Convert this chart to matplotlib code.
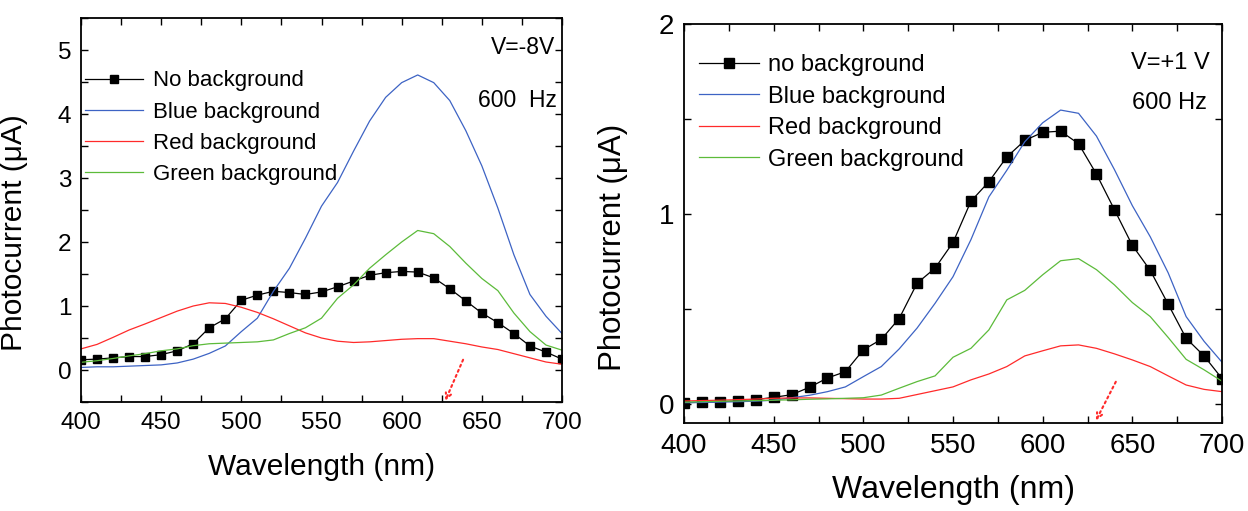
import matplotlib
matplotlib.use('Agg')
import matplotlib.pyplot as plt
from matplotlib.ticker import MultipleLocator

plt.rcParams['font.family'] = ['Liberation Sans', 'DejaVu Sans']

wl = list(range(400, 701, 10))

# left panel, V=-8V
left_none = [0.16, 0.17, 0.19, 0.21, 0.21, 0.24, 0.30, 0.41, 0.66, 0.80, 1.09, 1.17, 1.23, 1.21, 1.18, 1.22,
             1.30, 1.39, 1.48, 1.52, 1.54, 1.53, 1.44, 1.27, 1.08, 0.89, 0.74, 0.57, 0.375, 0.28, 0.17]
left_blue = [0.04, 0.05, 0.05, 0.06, 0.07, 0.08, 0.11, 0.17, 0.26, 0.375, 0.60, 0.81, 1.23, 1.59, 2.06, 2.56,
             2.93, 3.42, 3.89, 4.26, 4.49, 4.61, 4.49, 4.21, 3.74, 3.19, 2.53, 1.80, 1.18, 0.84, 0.57]
left_red = [0.33, 0.40, 0.51, 0.625, 0.72, 0.82, 0.92, 1.00, 1.05, 1.04, 0.98, 0.90, 0.80, 0.69, 0.58, 0.50,
            0.45, 0.43, 0.44, 0.46, 0.48, 0.49, 0.49, 0.45, 0.41, 0.36, 0.32, 0.255, 0.19, 0.125, 0.09]
left_green = [0.12, 0.145, 0.18, 0.22, 0.255, 0.30, 0.33, 0.38, 0.41, 0.42, 0.43, 0.44, 0.47, 0.57, 0.66, 0.81,
              1.12, 1.33, 1.59, 1.80, 2.00, 2.18, 2.13, 1.93, 1.67, 1.43, 1.24, 0.89, 0.60, 0.39, 0.31]

# right panel, V=+1 V
right_none = [0.007, 0.009, 0.012, 0.016, 0.023, 0.035, 0.049, 0.088, 0.137, 0.17, 0.285, 0.34, 0.45, 0.636,
              0.715, 0.85, 1.067, 1.17, 1.30, 1.387, 1.43, 1.436, 1.37, 1.21, 1.023, 0.835, 0.703, 0.525,
              0.346, 0.253, 0.134]
right_blue = [0.007, 0.008, 0.01, 0.012, 0.015, 0.02, 0.033, 0.046, 0.065, 0.09, 0.144, 0.197, 0.29, 0.40,
              0.53, 0.67, 0.865, 1.09, 1.23, 1.38, 1.48, 1.547, 1.53, 1.41, 1.234, 1.044, 0.88, 0.69, 0.46,
              0.33, 0.22]
right_red = [0.016, 0.018, 0.02, 0.023, 0.026, 0.03, 0.032, 0.032, 0.03, 0.028, 0.026, 0.026, 0.03, 0.05,
             0.07, 0.09, 0.127, 0.158, 0.197, 0.253, 0.28, 0.306, 0.311, 0.293, 0.264, 0.232, 0.197, 0.148,
             0.10, 0.077, 0.065]
right_green = [0.01, 0.012, 0.014, 0.016, 0.018, 0.02, 0.022, 0.025, 0.027, 0.03, 0.033, 0.047, 0.083, 0.118,
               0.148, 0.246, 0.293, 0.39, 0.548, 0.598, 0.68, 0.754, 0.765, 0.707, 0.627, 0.534, 0.46, 0.35,
               0.235, 0.18, 0.12]

BLUE = '#3d63c4'
RED = '#ff2a2a'
GREEN = '#5cbb3a'


def style_axes(ax, tick_fs):
    ax.set_xlim(400, 700)
    ax.xaxis.set_major_locator(MultipleLocator(50))
    ax.xaxis.set_minor_locator(MultipleLocator(25))
    ax.yaxis.set_major_locator(MultipleLocator(1))
    ax.yaxis.set_minor_locator(MultipleLocator(0.5))
    ax.tick_params(which='both', direction='in', top=True, right=True, width=1.0, labelsize=tick_fs, pad=7)
    ax.tick_params(which='both', length=5)
    for s in ax.spines.values():
        s.set_linewidth(1.3)


def draw_panel(ax, none, blue, red, green, labels, ms):
    ax.plot(wl, none, color='black', lw=0.9, marker='s', markersize=ms, label=labels[0])
    ax.plot(wl, blue, color=BLUE, lw=0.9, label=labels[1])
    ax.plot(wl, red, color=RED, lw=0.9, label=labels[2])
    ax.plot(wl, green, color=GREEN, lw=0.9, label=labels[3])


fig = plt.figure(figsize=(12.48, 5.11), dpi=100)

ax1 = fig.add_axes([81 / 1248, 109 / 511, 481 / 1248, 384 / 511])
draw_panel(ax1, left_none, left_blue, left_red, left_green,
           ['No background', 'Blue background', 'Red background', 'Green background'], 5.8)
style_axes(ax1, 17.5)
ax1.set_ylim(-0.5, 5.5)
ax1.set_xlabel('Wavelength (nm)', fontsize=21.5, labelpad=14)
ax1.set_ylabel('Photocurrent (\u03bcA)', fontsize=21.5)
ax1.yaxis.set_label_coords(-0.11, 0.44)
ax1.legend(loc='upper left', bbox_to_anchor=(0.0, 0.875), frameon=False, fontsize=16,
           handlelength=2.6, handletextpad=0.45, labelspacing=0.46, borderaxespad=0, borderpad=0.2)
ax1.text(0.985, 0.924, 'V=-8V', transform=ax1.transAxes, ha='right', va='center', fontsize=16.5)
ax1.text(0.99, 0.786, '600  Hz', transform=ax1.transAxes, ha='right', va='center', fontsize=16.5)
ax1.annotate('', xy=(626.5, -0.52), xytext=(639, 0.2),
             arrowprops=dict(arrowstyle='->', color=RED, lw=1.5, linestyle=':'), annotation_clip=False)

ax2 = fig.add_axes([684 / 1248, 88 / 511, 538 / 1248, 399 / 511])
draw_panel(ax2, right_none, right_blue, right_red, right_green,
           ['no background', 'Blue background', 'Red background', 'Green background'], 6.8)
style_axes(ax2, 20)
ax2.set_ylim(-0.1, 2.0)
ax2.set_xlabel('Wavelength (nm)', fontsize=23, labelpad=12)
ax2.set_ylabel('Photocurrent (\u03bcA)', fontsize=22.5)
ax2.yaxis.set_label_coords(-0.104, 0.44)
ax2.legend(loc='upper left', bbox_to_anchor=(0.02, 0.936), frameon=False, fontsize=17,
           handlelength=2.5, handletextpad=0.4, labelspacing=0.4, borderaxespad=0, borderpad=0.2)
ax2.text(0.978, 0.902, 'V=+1 V', transform=ax2.transAxes, ha='right', va='center', fontsize=17)
ax2.text(0.972, 0.802, '600 Hz', transform=ax2.transAxes, ha='right', va='center', fontsize=17)
ax2.annotate('', xy=(629, -0.1), xytext=(641.5, 0.13),
             arrowprops=dict(arrowstyle='->', color=RED, lw=1.5, linestyle=':'), annotation_clip=False)

fig.savefig('out.png', dpi=100)
